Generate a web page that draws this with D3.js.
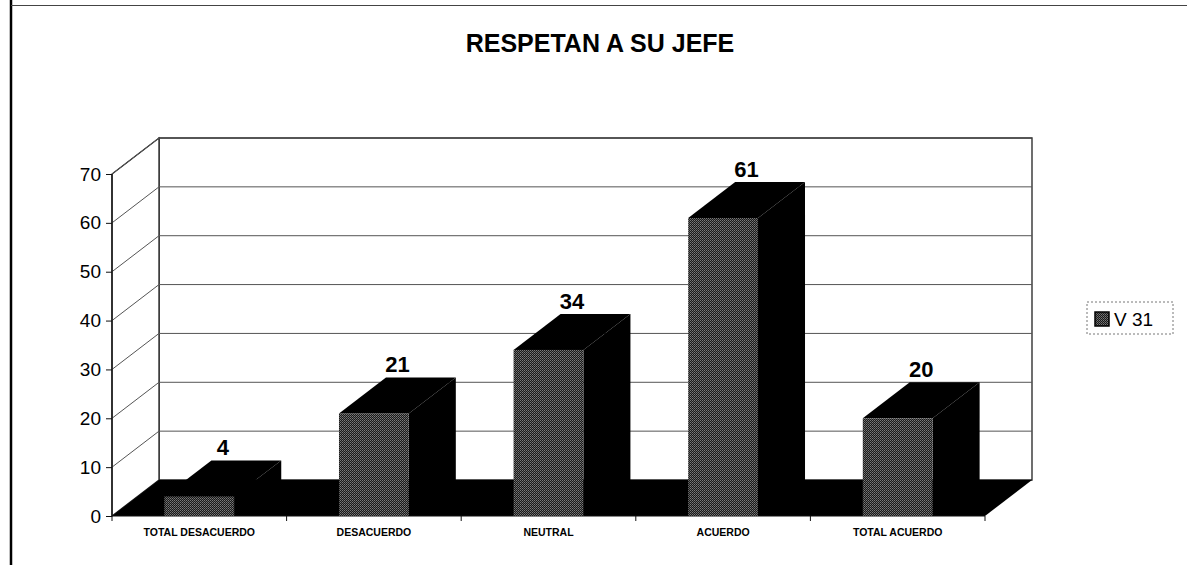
<!DOCTYPE html>
<html>
<head>
<meta charset="utf-8">
<script src="https://cdn.jsdelivr.net/npm/d3@7"></script>
<style>
  body { margin: 0; background: #fff; }
  svg { display: block; font-family: "Liberation Sans", Arial, sans-serif; }
</style>
</head>
<body>
<div id="chart"></div>
<script>
// ---------------- DATA ----------------
const categories = ["TOTAL DESACUERDO", "DESACUERDO", "NEUTRAL", "ACUERDO", "TOTAL ACUERDO"];
const values = [4, 21, 34, 61, 20];
const yTicks = [0, 10, 20, 30, 40, 50, 60, 70];
const seriesName = "V 31";
const title = "RESPETAN A SU JEFE";

const width = 1187, height = 565;
const depth = {dx: 47, dy: -36}; // oblique offset of the 3D box

const svg = d3.select("#chart").append("svg")
  .attr("width", width)
  .attr("height", height);

// stippled fill for bar fronts (scanned look)
const defs = svg.append("defs");
const pat = defs.append("pattern")
  .attr("id", "stipple")
  .attr("patternUnits", "userSpaceOnUse")
  .attr("width", 2).attr("height", 2);
pat.append("rect").attr("width", 2).attr("height", 2).attr("fill", "#1a1a1a");
pat.append("rect").attr("x", 0).attr("y", 0).attr("width", 1).attr("height", 1).attr("fill", "#7a7a7a");
pat.append("rect").attr("x", 1).attr("y", 1).attr("width", 1).attr("height", 1).attr("fill", "#5e5e5e");

// outer frame
svg.append("line").attr("x1", 11).attr("x2", 11).attr("y1", 0).attr("y2", height)
  .attr("stroke", "#000").attr("stroke-width", 2.5);
svg.append("line").attr("x1", 11).attr("x2", width).attr("y1", 5.5).attr("y2", 5.5)
  .attr("stroke", "#444").attr("stroke-width", 1);

// title
svg.append("text")
  .attr("x", 600).attr("y", 52)
  .attr("text-anchor", "middle")
  .style("font-size", "25px").style("font-weight", "bold")
  .text(title);

// scales
const x = d3.scaleBand()
  .domain(categories)
  .range([112, 985])
  .paddingInner(0.6)
  .paddingOuter(0.3);

const y = d3.scaleLinear()
  .domain([0, 70])
  .range([516, 174]);

const x0 = x.range()[0], x1 = x.range()[1];
const yTop = y(70), yBase = y(0);
const line = d3.line();

// back wall
svg.append("path")
  .attr("d", line([[x0 + depth.dx, yTop + depth.dy], [x1 + depth.dx, yTop + depth.dy],
                   [x1 + depth.dx, yBase + depth.dy], [x0 + depth.dx, yBase + depth.dy]]) + "Z")
  .attr("fill", "#fff").attr("stroke", "#222").attr("stroke-width", 1.3);

// left wall
svg.append("path")
  .attr("d", line([[x0, yBase], [x0, yTop], [x0 + depth.dx, yTop + depth.dy], [x0 + depth.dx, yBase + depth.dy]]) + "Z")
  .attr("fill", "#fff").attr("stroke", "#222").attr("stroke-width", 1.3);

// gridlines on back wall and left wall
yTicks.filter(t => t > 0).forEach(t => {
  svg.append("line")
    .attr("x1", x0 + depth.dx).attr("x2", x1 + depth.dx)
    .attr("y1", y(t) + depth.dy).attr("y2", y(t) + depth.dy)
    .attr("stroke", "#555").attr("stroke-width", 1);
  svg.append("line")
    .attr("x1", x0).attr("x2", x0 + depth.dx)
    .attr("y1", y(t)).attr("y2", y(t) + depth.dy)
    .attr("stroke", "#555").attr("stroke-width", 1);
});

// floor
svg.append("path")
  .attr("d", line([[x0, yBase], [x1, yBase], [x1 + depth.dx, yBase + depth.dy], [x0 + depth.dx, yBase + depth.dy]]) + "Z")
  .attr("fill", "#000");

// y axis
svg.append("line").attr("x1", x0).attr("x2", x0).attr("y1", yBase).attr("y2", yTop)
  .attr("stroke", "#111").attr("stroke-width", 1.3);
const yAxis = svg.append("g").attr("transform", `translate(${x0},0)`)
  .call(d3.axisLeft(y).tickValues(yTicks).tickSize(6).tickPadding(5));
yAxis.select(".domain").remove();
yAxis.selectAll("line").attr("stroke", "#111");
yAxis.selectAll("text")
  .style("font-size", "19px").style("font-family", "Liberation Sans, Arial, sans-serif")
  .attr("fill", "#000");

// x axis line and category boundary ticks
svg.append("line").attr("x1", x0).attr("x2", x1).attr("y1", yBase).attr("y2", yBase)
  .attr("stroke", "#111").attr("stroke-width", 1);
const bounds = categories.map(c => x(c) - x.step() * 0.3).concat([x1]);
svg.selectAll(".xtick").data(bounds).enter().append("line")
  .attr("x1", d => d).attr("x2", d => d)
  .attr("y1", yBase).attr("y2", yBase + 5)
  .attr("stroke", "#111");

svg.selectAll(".xlabel").data(categories).enter().append("text")
  .attr("x", d => x(d) + x.bandwidth() / 2)
  .attr("y", 536)
  .attr("text-anchor", "middle")
  .style("font-size", "10.5px").style("font-weight", "bold")
  .text(d => d);

// bars
const bars = svg.selectAll(".bar").data(values).enter().append("g");
bars.each(function(v, i) {
  const g = d3.select(this);
  const bx = x(categories[i]), bw = x.bandwidth();
  const top = y(v);
  // side face
  g.append("path")
    .attr("d", line([[bx + bw, yBase], [bx + bw, top], [bx + bw + depth.dx, top + depth.dy], [bx + bw + depth.dx, yBase + depth.dy]]) + "Z")
    .attr("fill", "#000");
  // top face
  g.append("path")
    .attr("d", line([[bx, top], [bx + depth.dx, top + depth.dy], [bx + bw + depth.dx, top + depth.dy], [bx + bw, top]]) + "Z")
    .attr("fill", "#000");
  // front face
  g.append("rect")
    .attr("x", bx).attr("y", top)
    .attr("width", bw).attr("height", yBase - top)
    .attr("fill", "url(#stipple)");
  // value label
  g.append("text")
    .attr("x", bx + bw / 2 + depth.dx / 2)
    .attr("y", top + depth.dy - 5)
    .attr("text-anchor", "middle")
    .style("font-size", "22px").style("font-weight", "bold")
    .text(v);
});

// legend
const legend = svg.append("g").attr("transform", "translate(1087,302)");
legend.append("rect")
  .attr("width", 86).attr("height", 32)
  .attr("fill", "#fff").attr("stroke", "#777").attr("stroke-width", 1)
  .attr("stroke-dasharray", "2,2");
legend.append("rect")
  .attr("x", 8).attr("y", 10).attr("width", 14).attr("height", 14)
  .attr("fill", "url(#stipple)").attr("stroke", "#000").attr("stroke-width", 1.5);
legend.append("text")
  .attr("x", 27).attr("y", 24)
  .style("font-size", "19px")
  .text(seriesName);
</script>
</body>
</html>
